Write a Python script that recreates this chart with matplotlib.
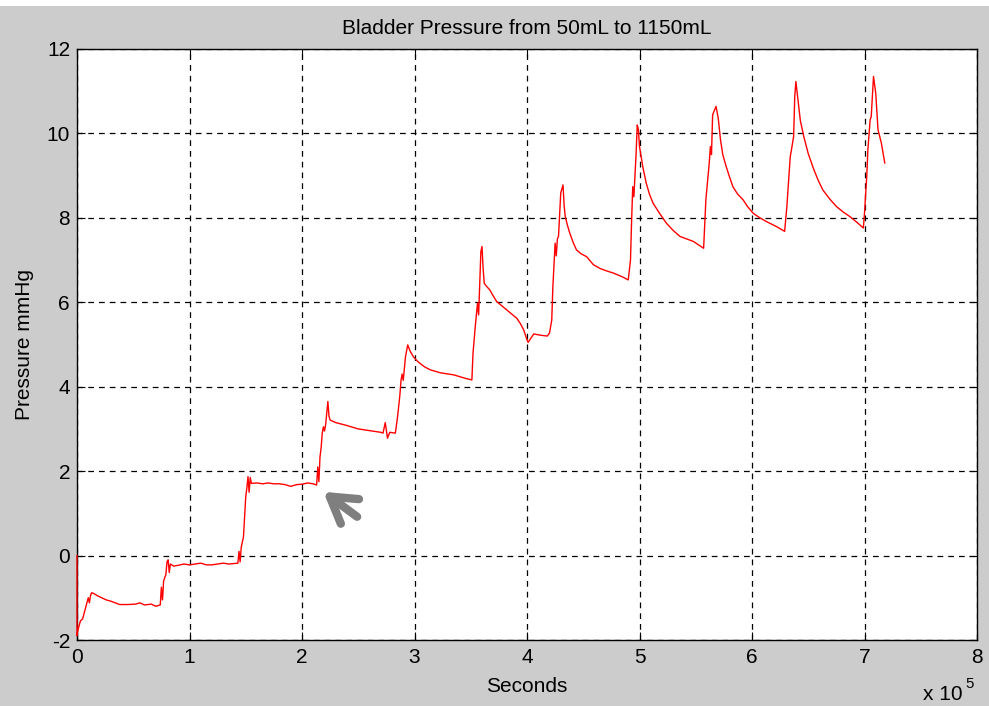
import matplotlib
matplotlib.use("Agg")
import matplotlib.pyplot as plt
from matplotlib.patches import Rectangle

# ── Data (time in 1e5 s, pressure in mmHg) ──
time_e5 = [
    0.00, 0.00, 0.01, 0.03, 0.05, 0.07, 0.09, 0.10, 0.11, 0.12, 0.13, 0.15,
    0.18, 0.22, 0.26, 0.30, 0.34, 0.38, 0.45, 0.52, 0.56, 0.60, 0.66, 0.70,
    0.74, 0.75, 0.76, 0.77, 0.79, 0.80, 0.81, 0.82, 0.83, 0.86, 0.90, 0.95,
    1.00, 1.05, 1.10, 1.15, 1.20, 1.25, 1.30, 1.35, 1.43, 1.44, 1.45, 1.46,
    1.48, 1.50, 1.51, 1.52, 1.53, 1.54, 1.55, 1.60, 1.65, 1.70, 1.75, 1.80,
    1.85, 1.90, 1.95, 2.00, 2.05, 2.10, 2.13, 2.14, 2.15, 2.16, 2.17, 2.18,
    2.19, 2.20, 2.21, 2.23, 2.24, 2.25, 2.30, 2.40, 2.50, 2.60, 2.70, 2.72,
    2.74, 2.76, 2.78, 2.83, 2.85, 2.87, 2.88, 2.89, 2.90, 2.92, 2.94, 2.96,
    2.99, 3.02, 3.05, 3.09, 3.14, 3.23, 3.35, 3.45, 3.51, 3.52, 3.54, 3.56,
    3.57, 3.58, 3.59, 3.60, 3.61, 3.62, 3.64, 3.67, 3.70, 3.73, 3.77, 3.82,
    3.86, 3.91, 3.94, 3.97, 4.00, 4.01, 4.06, 4.12, 4.18, 4.20, 4.22, 4.23,
    4.25, 4.26, 4.27, 4.28, 4.30, 4.32, 4.33, 4.34, 4.36, 4.38, 4.41, 4.44,
    4.48, 4.53, 4.59, 4.65, 4.70, 4.77, 4.85, 4.90, 4.92, 4.93, 4.94, 4.95,
    4.97, 4.98, 4.99, 5.00, 5.03, 5.06, 5.09, 5.12, 5.18, 5.24, 5.30, 5.36,
    5.42, 5.48, 5.53, 5.57, 5.59, 5.62, 5.63, 5.64, 5.65, 5.68, 5.70, 5.72,
    5.74, 5.77, 5.80, 5.83, 5.87, 5.92, 5.96, 6.01, 6.07, 6.13, 6.22, 6.29,
    6.31, 6.34, 6.35, 6.37, 6.38, 6.39, 6.40, 6.41, 6.43, 6.46, 6.50, 6.55,
    6.59, 6.63, 6.69, 6.75, 6.81, 6.87, 6.93, 6.99, 7.00, 7.02, 7.03, 7.05,
    7.06, 7.08, 7.10, 7.12, 7.15, 7.18,
]
pressure = [
    0.00, -1.90, -1.75, -1.55, -1.50, -1.30, -1.10, -1.00, -1.12, -0.95, -0.88, -0.90,
    -0.95, -1.00, -1.05, -1.08, -1.12, -1.16, -1.16, -1.15, -1.12, -1.17, -1.15, -1.20,
    -1.17, -0.75, -1.05, -0.60, -0.45, -0.15, -0.10, -0.40, -0.20, -0.25, -0.23, -0.20,
    -0.22, -0.20, -0.18, -0.22, -0.22, -0.20, -0.18, -0.20, -0.18, 0.10, -0.15, 0.20,
    0.45, 1.40, 1.60, 1.87, 1.50, 1.85, 1.71, 1.72, 1.70, 1.72, 1.70, 1.70,
    1.68, 1.64, 1.68, 1.69, 1.72, 1.70, 1.67, 2.10, 1.75, 2.34, 2.55, 2.90,
    3.05, 2.95, 3.10, 3.65, 3.30, 3.21, 3.15, 3.08, 3.00, 2.96, 2.92, 2.90,
    3.15, 2.78, 2.92, 2.90, 3.30, 3.80, 4.15, 4.30, 4.15, 4.71, 4.99, 4.85,
    4.71, 4.62, 4.55, 4.47, 4.40, 4.33, 4.28, 4.20, 4.16, 4.79, 5.42, 5.98,
    5.70, 6.45, 7.20, 7.32, 6.80, 6.45, 6.38, 6.29, 6.15, 6.02, 5.93, 5.82,
    5.73, 5.62, 5.50, 5.35, 5.11, 5.05, 5.25, 5.22, 5.20, 5.27, 5.58, 6.37,
    7.40, 7.10, 7.50, 7.56, 8.59, 8.78, 8.30, 8.03, 7.82, 7.64, 7.42, 7.24,
    7.15, 7.08, 6.89, 6.80, 6.75, 6.69, 6.60, 6.53, 7.00, 7.95, 8.74, 8.50,
    9.53, 10.20, 10.10, 9.69, 9.20, 8.82, 8.55, 8.35, 8.10, 7.87, 7.70, 7.56,
    7.50, 7.44, 7.35, 7.28, 8.43, 9.30, 9.69, 9.50, 10.44, 10.64, 10.36, 9.85,
    9.50, 9.22, 8.97, 8.74, 8.57, 8.43, 8.27, 8.11, 8.00, 7.91, 7.79, 7.68,
    8.27, 9.45, 9.60, 9.93, 10.87, 11.23, 11.00, 10.76, 10.30, 9.93, 9.52, 9.14,
    8.88, 8.66, 8.45, 8.27, 8.14, 8.03, 7.90, 7.76, 8.11, 8.98, 9.61, 10.32,
    10.40, 11.35, 10.95, 10.09, 9.77, 9.30,
]
time_s = [t * 1e5 for t in time_e5]

x_ticks = [0, 1e5, 2e5, 3e5, 4e5, 5e5, 6e5, 7e5, 8e5]
x_tick_labels = ["0", "1", "2", "3", "4", "5", "6", "7", "8"]
y_ticks = [-2, 0, 2, 4, 6, 8, 10, 12]

BG = "#cccccc"
FONT = "Liberation Sans"
FS = 15

plt.rcParams["font.family"] = [FONT, "DejaVu Sans"]
plt.rcParams["axes.unicode_minus"] = False

fig = plt.figure(figsize=(9.89, 7.06), dpi=100, facecolor=BG)
fig.patches.append(Rectangle((0, 1 - 6 / 706), 1, 6 / 706, transform=fig.transFigure,
                             facecolor="white", edgecolor="none", zorder=0))

ax = fig.add_axes([77 / 989, 66 / 706, 900 / 989, 591 / 706])
ax.set_facecolor("white")

ax.plot(time_s, pressure, color="#ff0000", lw=1.0, zorder=3, clip_on=False)

ax.set_xlim(0, 8e5)
ax.set_ylim(-2, 12)
ax.set_xticks(x_ticks)
ax.set_xticklabels(x_tick_labels)
ax.set_yticks(y_ticks)

ax.grid(True, color="black", lw=0.9, linestyle=(0, (4.6, 4.0)))
ax.set_axisbelow(False)
ax.tick_params(direction="in", length=6, width=0.8, top=True, right=True,
               labelsize=FS, colors="black")
ax.tick_params(axis="x", pad=6)
ax.tick_params(axis="y", pad=5)
for s in ax.spines.values():
    s.set_color("black")
    s.set_linewidth(1.0)

ax.set_title("Bladder Pressure from 50mL to 1150mL", fontsize=FS, pad=11)
ax.set_xlabel("Seconds", fontsize=FS, labelpad=7)
ax.set_ylabel("Pressure mmHg", fontsize=FS, labelpad=9)

# exponent label at bottom right, MATLAB style
fig.text(963 / 989, 1 - 700 / 706, "x 10", fontsize=FS, ha="right", va="baseline")
fig.text(965 / 989, 1 - 688 / 706, "5", fontsize=FS * 0.72, ha="left", va="baseline")

# hand-drawn gray arrow pointing at the step
ax.annotate("", xy=(2.19e5, 1.51), xytext=(2.49e5, 0.92),
            arrowprops=dict(arrowstyle="->, head_length=0.9, head_width=0.55",
                            color="#7f7f7f", lw=6, mutation_scale=20,
                            capstyle="round", joinstyle="round", shrinkA=0, shrinkB=0),
            zorder=4)

fig.savefig("out.png", dpi=100, facecolor=BG)
